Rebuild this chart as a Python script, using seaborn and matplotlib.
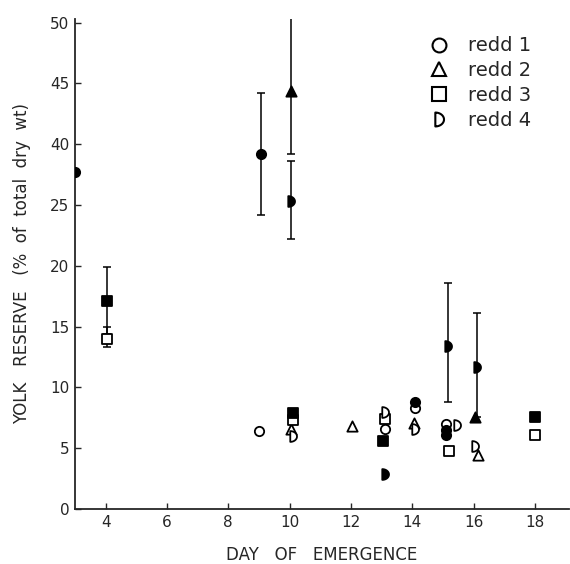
import numpy as np
import pandas as pd
import matplotlib
matplotlib.use("Agg")
import matplotlib.pyplot as plt
from matplotlib.path import Path
from matplotlib.lines import Line2D
import seaborn as sns

# yolk reserve (% of total dry wt) by day of emergence, four redds
# filled / open symbols drawn as in the original figure
day = [3.0, 4.05, 4.05, 9.0, 9.05, 10.05, 10.05, 10.1, 10.1, 10.05, 10.1,
       12.05, 13.1, 13.1, 13.1, 13.05, 13.1, 14.1, 14.1, 14.05, 14.1,
       15.1, 15.1, 15.1, 15.45, 15.2, 15.15, 16.1, 16.05, 16.05, 16.15,
       18.0, 18.0]
yolk = [33.1, 17.1, 14.0, 6.4, 37.6, 44.4, 25.9, 7.9, 7.3, 6.6, 6.0,
        6.8, 8.0, 7.4, 6.6, 5.6, 2.9, 8.8, 8.3, 7.1, 6.6,
        6.5, 6.1, 7.0, 6.9, 4.8, 13.4, 11.7, 7.6, 5.2, 4.4,
        7.6, 6.1]
redd = [1, 3, 3, 1, 1, 2, 4, 3, 3, 2, 4,
        2, 4, 3, 1, 3, 4, 1, 1, 2, 4,
        1, 1, 1, 4, 3, 4, 4, 2, 4, 2,
        3, 3]
filled = [1, 1, 0, 0, 1, 1, 1, 1, 0, 0, 0,
          0, 0, 0, 0, 1, 1, 1, 0, 0, 0,
          1, 1, 0, 0, 0, 1, 1, 1, 0, 0,
          1, 0]
# error bar ends (nan = no bar)
nan = np.nan
err_lo = [nan, 14.4, 13.3, nan, 24.2, 37.6, 22.2, nan, nan, nan, nan,
          nan, nan, nan, nan, nan, nan, nan, nan, nan, nan,
          nan, nan, nan, nan, nan, 8.8, 7.6, nan, nan, nan,
          nan, nan]
err_hi = [nan, 19.9, 15.0, nan, 44.2, 50.6, 35.8, nan, nan, nan, nan,
          nan, nan, nan, nan, nan, nan, nan, nan, nan, nan,
          nan, nan, nan, nan, nan, 18.6, 16.1, nan, nan, nan,
          nan, nan]

ytick_vals = [0, 5, 10, 15, 20, 25, 40, 45, 50]
xtick_vals = [4, 6, 8, 10, 12, 14, 16, 18]
legend_labels = ["redd 1", "redd 2", "redd 3", "redd 4"]

df = pd.DataFrame({"day": day, "yolk": yolk, "redd": redd, "filled": filled,
                   "lo": err_lo, "hi": err_hi})

# broken axis: 25..40 squeezed into one tick interval
brk_in = [-10, 0, 25, 40, 70]
brk_out = [-10, 0, 25, 30, 60]


def fwd(v):
    return np.interp(v, brk_in, brk_out)


def inv(p):
    return np.interp(p, brk_out, brk_in)


# "D" shaped marker (half disc)
th = np.radians(np.linspace(-90, 90, 25))
dverts = [(1.25 * np.cos(t) - 0.6, np.sin(t)) for t in th]
dverts.append(dverts[0])
dcodes = [Path.MOVETO] + [Path.LINETO] * (len(dverts) - 2) + [Path.CLOSEPOLY]
d_marker = Path(dverts, dcodes)

markers = {1: "o", 2: "^", 3: "s", 4: d_marker}
sizes = {1: 45, 2: 55, 3: 42, 4: 60}

sns.set_style("ticks")
plt.rcParams["font.family"] = ["DejaVu Sans"]
plt.rcParams["xtick.direction"] = "in"
plt.rcParams["ytick.direction"] = "in"

fig = plt.figure(figsize=(5.7, 5.64), dpi=100)
ax = fig.add_axes([0.1316, 0.0975, 0.866, 0.869])
ax.set_yscale("function", functions=(fwd, inv))

# error bars first, under the symbols
eb = df.dropna(subset=["lo"])
ax.errorbar(eb["day"], eb["yolk"],
            yerr=[eb["yolk"] - eb["lo"], eb["hi"] - eb["yolk"]],
            fmt="none", ecolor="black", elinewidth=1.1, capsize=3, capthick=1.1)

for (r, f), grp in df.groupby(["redd", "filled"]):
    sns.scatterplot(data=grp, x="day", y="yolk", ax=ax,
                    marker=markers[r], s=sizes[r],
                    color="black" if f else "white",
                    edgecolor="black", linewidth=1.3, zorder=3)

ax.set_xlim(3, 19.1)
ax.set_ylim(0, 50.3)
ax.set_xticks(xtick_vals)
ax.set_yticks(ytick_vals)
ax.set_yticklabels([str(v) for v in ytick_vals])
ax.tick_params(labelsize=11, length=4, width=1, pad=4)
ax.minorticks_off()
sns.despine(ax=ax)
for s in ["left", "bottom"]:
    ax.spines[s].set_linewidth(1.3)

ax.set_xlabel("DAY   OF   EMERGENCE", fontsize=12, labelpad=12)
ax.set_ylabel("YOLK   RESERVE   (%  of  total  dry  wt)", fontsize=12, labelpad=14)

handles = [Line2D([], [], linestyle="none", marker=markers[i + 1],
                  markerfacecolor="white", markeredgecolor="black",
                  markeredgewidth=1.5, markersize=10)
           for i in range(4)]
ax.legend(handles, legend_labels, loc="upper right", bbox_to_anchor=(0.96, 1.0),
          frameon=False, fontsize=14, handletextpad=0.9, labelspacing=0.3,
          handlelength=1.2)

fig.savefig("out.png", dpi=100)
